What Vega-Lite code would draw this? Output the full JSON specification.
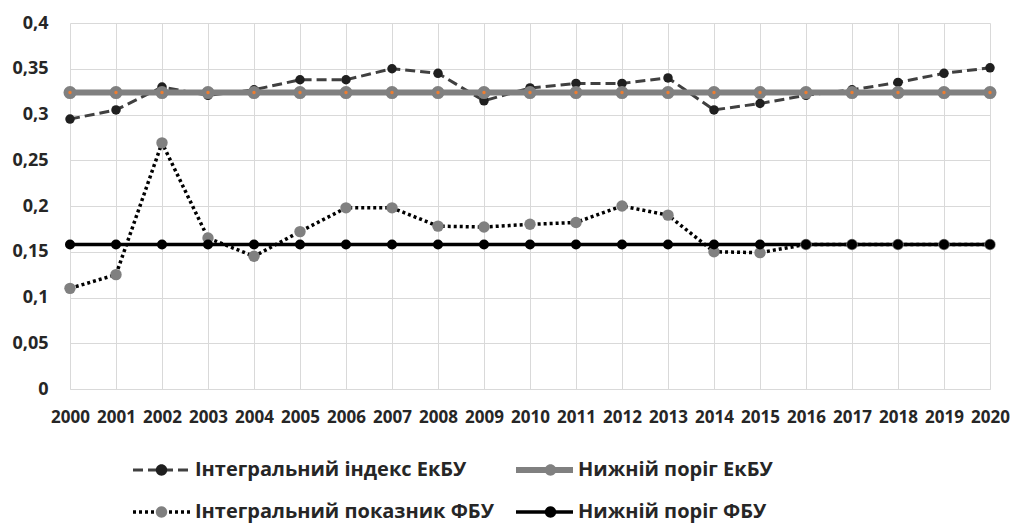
{
  "$schema": "https://vega.github.io/schema/vega-lite/v6.json",
  "width": 920,
  "height": 366,
  "autosize": {"type": "none"},
  "padding": {"left": 70, "top": 23, "right": 24, "bottom": 137},
  "background": "white",
  "config": {
    "view": {"stroke": null},
    "font": "Open Sans",
    "axis": {"labelFont": "Open Sans", "labelFontWeight": "bold", "labelColor": "#262626", "gridColor": "#d9d9d9", "gridWidth": 1, "ticks": false, "title": null},
    "legend": {"labelFont": "Open Sans", "labelFontWeight": "bold", "labelFontSize": 20, "labelColor": "#262626", "labelLimit": 400}
  },
  "data": {
    "values": [
      {"year": "2000", "series": "Інтегральний індекс ЕкБУ", "value": 0.295},
      {"year": "2001", "series": "Інтегральний індекс ЕкБУ", "value": 0.305},
      {"year": "2002", "series": "Інтегральний індекс ЕкБУ", "value": 0.33},
      {"year": "2003", "series": "Інтегральний індекс ЕкБУ", "value": 0.321},
      {"year": "2004", "series": "Інтегральний індекс ЕкБУ", "value": 0.327},
      {"year": "2005", "series": "Інтегральний індекс ЕкБУ", "value": 0.338},
      {"year": "2006", "series": "Інтегральний індекс ЕкБУ", "value": 0.338},
      {"year": "2007", "series": "Інтегральний індекс ЕкБУ", "value": 0.35},
      {"year": "2008", "series": "Інтегральний індекс ЕкБУ", "value": 0.345},
      {"year": "2009", "series": "Інтегральний індекс ЕкБУ", "value": 0.315},
      {"year": "2010", "series": "Інтегральний індекс ЕкБУ", "value": 0.329},
      {"year": "2011", "series": "Інтегральний індекс ЕкБУ", "value": 0.334},
      {"year": "2012", "series": "Інтегральний індекс ЕкБУ", "value": 0.334},
      {"year": "2013", "series": "Інтегральний індекс ЕкБУ", "value": 0.34},
      {"year": "2014", "series": "Інтегральний індекс ЕкБУ", "value": 0.305},
      {"year": "2015", "series": "Інтегральний індекс ЕкБУ", "value": 0.312},
      {"year": "2016", "series": "Інтегральний індекс ЕкБУ", "value": 0.321},
      {"year": "2017", "series": "Інтегральний індекс ЕкБУ", "value": 0.327},
      {"year": "2018", "series": "Інтегральний індекс ЕкБУ", "value": 0.335},
      {"year": "2019", "series": "Інтегральний індекс ЕкБУ", "value": 0.345},
      {"year": "2020", "series": "Інтегральний індекс ЕкБУ", "value": 0.351},
      {"year": "2000", "series": "Нижній поріг ЕкБУ", "value": 0.324},
      {"year": "2001", "series": "Нижній поріг ЕкБУ", "value": 0.324},
      {"year": "2002", "series": "Нижній поріг ЕкБУ", "value": 0.324},
      {"year": "2003", "series": "Нижній поріг ЕкБУ", "value": 0.324},
      {"year": "2004", "series": "Нижній поріг ЕкБУ", "value": 0.324},
      {"year": "2005", "series": "Нижній поріг ЕкБУ", "value": 0.324},
      {"year": "2006", "series": "Нижній поріг ЕкБУ", "value": 0.324},
      {"year": "2007", "series": "Нижній поріг ЕкБУ", "value": 0.324},
      {"year": "2008", "series": "Нижній поріг ЕкБУ", "value": 0.324},
      {"year": "2009", "series": "Нижній поріг ЕкБУ", "value": 0.324},
      {"year": "2010", "series": "Нижній поріг ЕкБУ", "value": 0.324},
      {"year": "2011", "series": "Нижній поріг ЕкБУ", "value": 0.324},
      {"year": "2012", "series": "Нижній поріг ЕкБУ", "value": 0.324},
      {"year": "2013", "series": "Нижній поріг ЕкБУ", "value": 0.324},
      {"year": "2014", "series": "Нижній поріг ЕкБУ", "value": 0.324},
      {"year": "2015", "series": "Нижній поріг ЕкБУ", "value": 0.324},
      {"year": "2016", "series": "Нижній поріг ЕкБУ", "value": 0.324},
      {"year": "2017", "series": "Нижній поріг ЕкБУ", "value": 0.324},
      {"year": "2018", "series": "Нижній поріг ЕкБУ", "value": 0.324},
      {"year": "2019", "series": "Нижній поріг ЕкБУ", "value": 0.324},
      {"year": "2020", "series": "Нижній поріг ЕкБУ", "value": 0.324},
      {"year": "2000", "series": "Інтегральний показник ФБУ", "value": 0.11},
      {"year": "2001", "series": "Інтегральний показник ФБУ", "value": 0.125},
      {"year": "2002", "series": "Інтегральний показник ФБУ", "value": 0.269},
      {"year": "2003", "series": "Інтегральний показник ФБУ", "value": 0.165},
      {"year": "2004", "series": "Інтегральний показник ФБУ", "value": 0.145},
      {"year": "2005", "series": "Інтегральний показник ФБУ", "value": 0.172},
      {"year": "2006", "series": "Інтегральний показник ФБУ", "value": 0.198},
      {"year": "2007", "series": "Інтегральний показник ФБУ", "value": 0.198},
      {"year": "2008", "series": "Інтегральний показник ФБУ", "value": 0.178},
      {"year": "2009", "series": "Інтегральний показник ФБУ", "value": 0.177},
      {"year": "2010", "series": "Інтегральний показник ФБУ", "value": 0.18},
      {"year": "2011", "series": "Інтегральний показник ФБУ", "value": 0.182},
      {"year": "2012", "series": "Інтегральний показник ФБУ", "value": 0.2},
      {"year": "2013", "series": "Інтегральний показник ФБУ", "value": 0.19},
      {"year": "2014", "series": "Інтегральний показник ФБУ", "value": 0.15},
      {"year": "2015", "series": "Інтегральний показник ФБУ", "value": 0.149},
      {"year": "2016", "series": "Інтегральний показник ФБУ", "value": 0.158},
      {"year": "2017", "series": "Інтегральний показник ФБУ", "value": 0.158},
      {"year": "2018", "series": "Інтегральний показник ФБУ", "value": 0.158},
      {"year": "2019", "series": "Інтегральний показник ФБУ", "value": 0.158},
      {"year": "2020", "series": "Інтегральний показник ФБУ", "value": 0.158},
      {"year": "2000", "series": "Нижній поріг ФБУ", "value": 0.158},
      {"year": "2001", "series": "Нижній поріг ФБУ", "value": 0.158},
      {"year": "2002", "series": "Нижній поріг ФБУ", "value": 0.158},
      {"year": "2003", "series": "Нижній поріг ФБУ", "value": 0.158},
      {"year": "2004", "series": "Нижній поріг ФБУ", "value": 0.158},
      {"year": "2005", "series": "Нижній поріг ФБУ", "value": 0.158},
      {"year": "2006", "series": "Нижній поріг ФБУ", "value": 0.158},
      {"year": "2007", "series": "Нижній поріг ФБУ", "value": 0.158},
      {"year": "2008", "series": "Нижній поріг ФБУ", "value": 0.158},
      {"year": "2009", "series": "Нижній поріг ФБУ", "value": 0.158},
      {"year": "2010", "series": "Нижній поріг ФБУ", "value": 0.158},
      {"year": "2011", "series": "Нижній поріг ФБУ", "value": 0.158},
      {"year": "2012", "series": "Нижній поріг ФБУ", "value": 0.158},
      {"year": "2013", "series": "Нижній поріг ФБУ", "value": 0.158},
      {"year": "2014", "series": "Нижній поріг ФБУ", "value": 0.158},
      {"year": "2015", "series": "Нижній поріг ФБУ", "value": 0.158},
      {"year": "2016", "series": "Нижній поріг ФБУ", "value": 0.158},
      {"year": "2017", "series": "Нижній поріг ФБУ", "value": 0.158},
      {"year": "2018", "series": "Нижній поріг ФБУ", "value": 0.158},
      {"year": "2019", "series": "Нижній поріг ФБУ", "value": 0.158},
      {"year": "2020", "series": "Нижній поріг ФБУ", "value": 0.158}
    ]
  },
  "encoding": {
    "x": {
      "field": "year", "type": "ordinal",
      "scale": {"type": "point", "padding": 0},
      "axis": {"labelAngle": 0, "grid": true, "domain": true, "domainColor": "#d9d9d9", "labelFontSize": 17, "labelPadding": 20}
    },
    "y": {
      "field": "value", "type": "quantitative",
      "scale": {"domain": [0, 0.4]},
      "axis": {"values": [0, 0.05, 0.1, 0.15, 0.2, 0.25, 0.3, 0.35, 0.4], "domain": false, "labelFontSize": 18, "labelPadding": 22, "labelExpr": "replace(format(datum.value, '.2~f'), '.', ',')"}
    }
  },
  "layer": [
    {
      "mark": {"type": "line"},
      "encoding": {
        "color": {
          "field": "series", "type": "nominal",
          "scale": {"domain": ["Інтегральний індекс ЕкБУ", "Нижній поріг ЕкБУ", "Інтегральний показник ФБУ", "Нижній поріг ФБУ"], "range": ["#404040", "#808080", "#000000", "#000000"]},
          "legend": {"title": null, "orient": "none", "legendX": 60, "legendY": 426, "direction": "horizontal", "columns": 2, "symbolType": "stroke", "symbolSize": 3249, "clipHeight": 42, "labelOffset": 2, "columnPadding": 19, "rowPadding": 0}
        },
        "strokeDash": {
          "field": "series", "type": "nominal",
          "scale": {"domain": ["Інтегральний індекс ЕкБУ", "Нижній поріг ЕкБУ", "Інтегральний показник ФБУ", "Нижній поріг ФБУ"], "range": [[10, 5], [1, 0], [3, 3], [1, 0]]},
          "legend": {"title": null, "orient": "none", "legendX": 60, "legendY": 426, "direction": "horizontal", "columns": 2, "symbolType": "stroke", "symbolSize": 3249, "clipHeight": 42, "labelOffset": 2, "columnPadding": 19, "rowPadding": 0}
        },
        "strokeWidth": {
          "field": "series", "type": "ordinal",
          "scale": {"type": "ordinal", "domain": ["Інтегральний індекс ЕкБУ", "Нижній поріг ЕкБУ", "Інтегральний показник ФБУ", "Нижній поріг ФБУ"], "range": [3, 6, 3.5, 3.5]},
          "legend": {"title": null, "orient": "none", "legendX": 60, "legendY": 426, "direction": "horizontal", "columns": 2, "symbolType": "stroke", "symbolSize": 3249, "clipHeight": 42, "labelOffset": 2, "columnPadding": 19, "rowPadding": 0}
        }
      }
    },
    {
      "transform": [{"filter": "datum.series === 'Інтегральний індекс ЕкБУ'"}],
      "mark": {"type": "circle", "size": 90, "opacity": 1},
      "encoding": {
        "fill": {
          "field": "series", "type": "nominal",
          "scale": {"domain": ["Інтегральний індекс ЕкБУ", "Нижній поріг ЕкБУ", "Інтегральний показник ФБУ", "Нижній поріг ФБУ", " "], "range": ["#1f1f1f", "#808080", "#808080", "#000000", "#ffffff"]},
          "legend": {"title": null, "values": ["Інтегральний індекс ЕкБУ", "Нижній поріг ЕкБУ", "Інтегральний показник ФБУ", "Нижній поріг ФБУ"], "orient": "none", "legendX": 60, "legendY": 426, "direction": "horizontal", "columns": 2, "symbolType": "M-1,0M0.2,0A0.2,0.2 0 1,1 -0.2,0A0.2,0.2 0 1,1 0.2,0Z", "symbolSize": 3249, "symbolStrokeWidth": 6, "symbolStrokeColor": "transparent", "symbolOpacity": 1, "clipHeight": 42, "labelOffset": 2, "labelExpr": "''", "columnPadding": 324, "rowPadding": 0}
        }
      }
    },
    {
      "transform": [{"filter": "datum.series === 'Нижній поріг ЕкБУ'"}],
      "mark": {"type": "circle", "size": 170, "opacity": 1},
      "encoding": {
        "fill": {"field": "series", "type": "nominal"}
      }
    },
    {
      "transform": [{"filter": "datum.series === 'Нижній поріг ЕкБУ'"}],
      "mark": {"type": "circle", "size": 12, "color": "#ED7D31", "opacity": 1}
    },
    {
      "transform": [{"filter": "datum.series === 'Інтегральний показник ФБУ'"}],
      "mark": {"type": "circle", "size": 130, "opacity": 1},
      "encoding": {
        "fill": {"field": "series", "type": "nominal"}
      }
    },
    {
      "transform": [{"filter": "datum.series === 'Нижній поріг ФБУ'"}],
      "mark": {"type": "circle", "size": 100, "opacity": 1},
      "encoding": {
        "fill": {"field": "series", "type": "nominal"}
      }
    }
  ]
}
